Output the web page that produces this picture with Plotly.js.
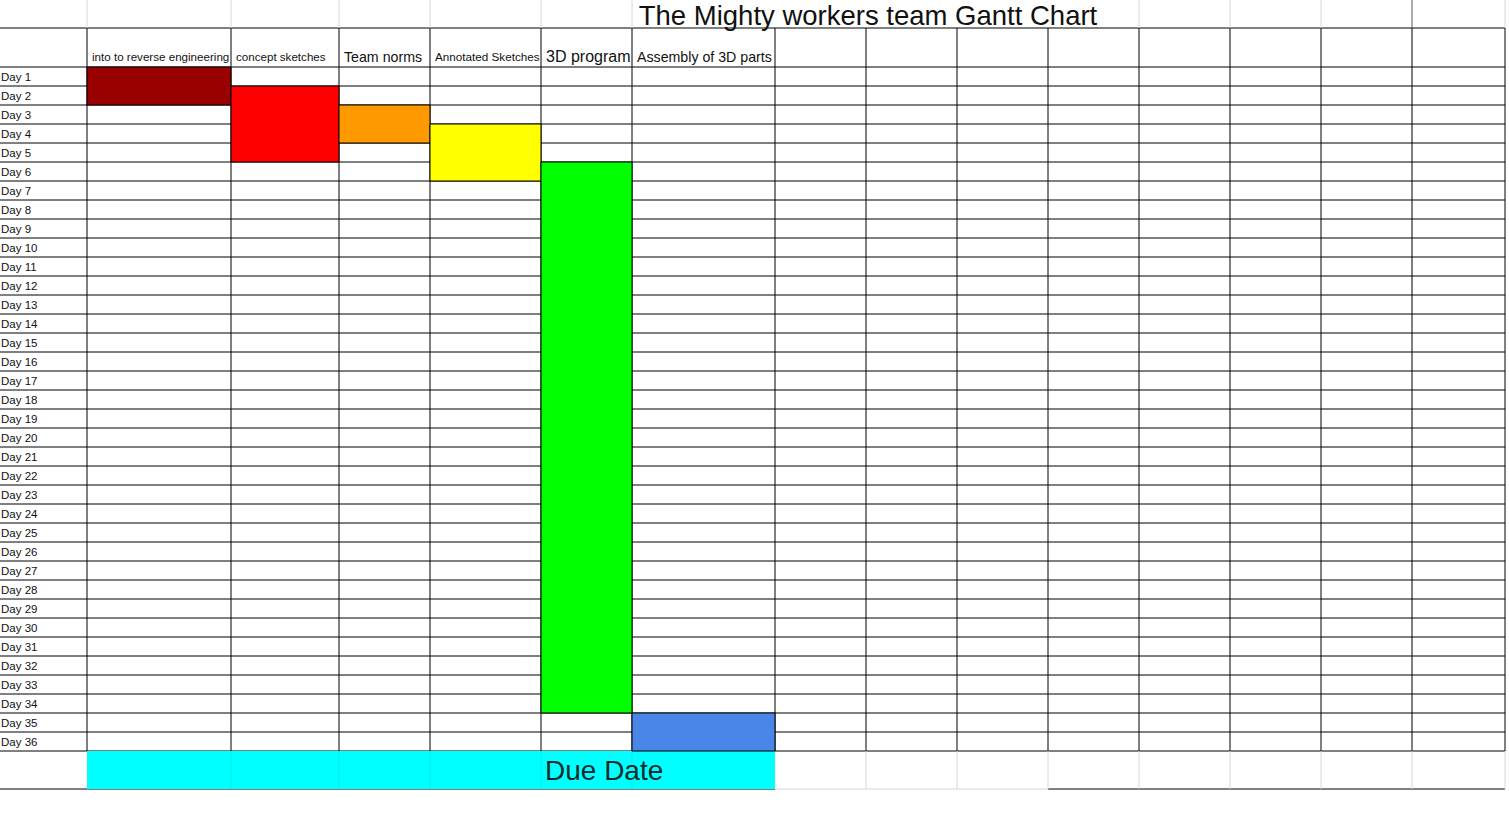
<!DOCTYPE html>
<html>
<head>
<meta charset="utf-8">
<script src="https://cdn.plot.ly/plotly-3.0.1.min.js"></script>
<style>
  html, body { margin: 0; padding: 0; background: #ffffff; }
  #chart { width: 1509px; height: 827px; }
</style>
</head>
<body>
<div id="chart"></div>
<script>
// ---------- data ----------
const chartTitle = 'The Mighty workers team Gantt Chart';
const tasks = ['into to reverse engineering', 'concept sketches', 'Team norms',
               'Annotated Sketches', '3D program', 'Assembly of 3D parts'];
const startDay = [1, 2, 3, 4, 6, 35];
const endDay   = [2, 5, 4, 6, 34, 36];
const dayLabels = ['Day 1','Day 2','Day 3','Day 4','Day 5','Day 6','Day 7','Day 8','Day 9',
  'Day 10','Day 11','Day 12','Day 13','Day 14','Day 15','Day 16','Day 17','Day 18','Day 19',
  'Day 20','Day 21','Day 22','Day 23','Day 24','Day 25','Day 26','Day 27','Day 28','Day 29',
  'Day 30','Day 31','Day 32','Day 33','Day 34','Day 35','Day 36'];
const dueLabel = 'Due Date';
const dueSpanTasks = [0, 5];      // first and last task column covered by the due-date band
const dueRows = 2;                // due-date band height in day rows

// ---------- styles / layout helpers ----------
const taskColors = ['#990000', '#ff0000', '#ff9900', '#ffff00', '#00ff00', '#4a86e8'];
const dueColor = '#00ffff';
const headerFontSizes = [11.6, 11.6, 14.2, 11.7, 16, 14.2];
// spreadsheet column edges (x axis units)
const colEdges = [0, 87, 231, 339, 430, 541, 632, 775, 866, 957, 1048, 1139, 1230, 1321, 1412, 1505];
const rowPx = 19, firstRowTopPx = 67, headerTopPx = 28, H = 827, W = 1509;
const yTop = -firstRowTopPx / rowPx;          // y value at pixel 0
const yBottom = (H - firstRowTopPx) / rowPx;  // y value at pixel 827
const yHeader = -(firstRowTopPx - headerTopPx) / rowPx;
const nDays = dayLabels.length;
const FONT = 'Arial, "Liberation Sans", sans-serif';

// task columns are spreadsheet columns 1..n
const taskLeft = tasks.map((t, i) => colEdges[i + 1]);
const taskRight = tasks.map((t, i) => colEdges[i + 2]);

const taskTrace = {
  type: 'bar',
  x: tasks.map((t, i) => (taskLeft[i] + taskRight[i]) / 2),
  width: tasks.map((t, i) => taskRight[i] - taskLeft[i]),
  base: startDay.map(d => d - 1),
  y: startDay.map((d, i) => endDay[i] - d + 1),
  marker: { color: taskColors, line: { color: '#000000', width: 1 } },
  hoverinfo: 'skip',
  showlegend: false
};

const dueL = taskLeft[dueSpanTasks[0]], dueR = taskRight[dueSpanTasks[1]];
const dueTrace = {
  type: 'bar',
  x: [(dueL + dueR) / 2],
  width: [dueR - dueL],
  base: [nDays],
  y: [dueRows],
  marker: { color: dueColor, line: { width: 0 } },
  hoverinfo: 'skip',
  showlegend: false
};

// ---------- grid lines ----------
const shapes = [];
function hline(y, x0, x1, color, layer) {
  shapes.push({ type: 'line', xref: 'x', yref: 'y', x0, x1, y0: y, y1: y,
    line: { color, width: 1 }, layer: layer || 'below' });
}
function vline(x, y0, y1, color, layer) {
  shapes.push({ type: 'line', xref: 'x', yref: 'y', x0: x, x1: x, y0, y1,
    line: { color, width: 1 }, layer: layer || 'below' });
}
const lastEdge = colEdges[colEdges.length - 1];
// header top and day row boundaries
hline(yHeader, 0, lastEdge, '#000000');
for (let k = 0; k <= nDays; k++) hline(k, 0, lastEdge, '#000000');
// vertical borders through header + day rows
colEdges.slice(1).forEach(x => vline(x, yHeader, nDays, '#000000'));
// top (title) row light grid
colEdges.slice(1).forEach(x => {
  if (x > 632 && x < 1139) return;
  vline(x, yTop, yHeader, x === 1412 ? '#555555' : '#d6d6d6');
});
// due-date row
const yDueBottom = nDays + dueRows;
hline(yDueBottom, 0, dueR, '#000000');
hline(yDueBottom, dueR, 1048, '#d6d6d6');
hline(yDueBottom, 1048, lastEdge, '#000000');
colEdges.filter(x => x > dueR).forEach(x => vline(x, nDays, yDueBottom, '#d6d6d6'));
colEdges.filter(x => x > dueL && x < dueR).forEach(x =>
  vline(x, nDays, yDueBottom, 'rgba(0,80,80,0.12)', 'above'));

// ---------- annotations ----------
const annotations = tasks.map((t, i) => ({
  text: t, x: taskLeft[i] + 3, y: -0.55, xref: 'x', yref: 'y',
  xanchor: 'left', yanchor: 'middle', showarrow: false,
  font: { family: FONT, size: headerFontSizes[i], color: '#111111' }
}));
annotations.push({
  text: dueLabel, x: dueL + 456, y: nDays + 1, xref: 'x', yref: 'y',
  xanchor: 'left', yanchor: 'middle', showarrow: false,
  font: { family: FONT, size: 28, color: '#0f2b2b' }
});

const layout = {
  width: W, height: H,
  margin: { l: 0, r: 0, t: 0, b: 0, pad: 0 },
  paper_bgcolor: '#ffffff', plot_bgcolor: '#ffffff',
  barmode: 'overlay',
  showlegend: false,
  hovermode: false,
  title: {
    text: chartTitle,
    x: 868 / W, xanchor: 'center', xref: 'paper',
    y: 1 - 15 / H, yanchor: 'middle', yref: 'container',
    font: { family: FONT, size: 27.5, color: '#111111' }
  },
  xaxis: {
    range: [0, W], showgrid: false, zeroline: false, showline: false,
    showticklabels: false, ticks: '', fixedrange: true
  },
  yaxis: {
    range: [yBottom, yTop], showgrid: false, zeroline: false, showline: false,
    tickmode: 'array',
    tickvals: dayLabels.map((d, i) => i + 0.5),
    ticktext: dayLabels,
    ticks: '', ticklen: 0,
    ticklabelposition: 'inside',
    ticklabelstandoff: -2,
    tickfont: { family: FONT, size: 11.5, color: '#111111' },
    automargin: false, fixedrange: true
  },
  shapes, annotations
};

Plotly.newPlot('chart', [dueTrace, taskTrace], layout, { displayModeBar: false, staticPlot: true });
</script>
</body>
</html>
